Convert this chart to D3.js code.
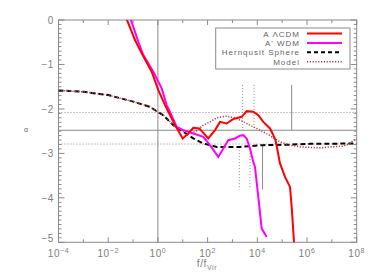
<!DOCTYPE html>
<html><head><meta charset="utf-8">
<script src="https://cdn.jsdelivr.net/npm/d3@7"></script>
<style>body{margin:0;background:#fff}svg{display:block}text{font-family:"Liberation Sans",Arial,sans-serif}</style>
</head><body>
<svg id="c" width="374" height="280"></svg>
<script>
// data: [log10(f/fVir), alpha]
const lcdm = [[-1.324,0.113],[-0.922,-0.45],[-0.652,-0.75],[-0.25,-1.164],[0.016,-1.577],[0.286,-1.914],[0.688,-2.365],[0.998,-2.664],[1.223,-2.552],[1.425,-2.426],[1.666,-2.439],[2.028,-2.664],[2.298,-2.477],[2.499,-2.291],[2.769,-2.327],[3.022,-2.23],[3.372,-2.178],[3.573,-2.05],[3.839,-2.065],[4.04,-2.14],[4.241,-2.291],[4.511,-2.439],[4.644,-2.59],[4.732,-2.703],[4.813,-2.928],[4.913,-3.227],[5.115,-3.529],[5.316,-3.754],[5.384,-4.205],[5.477,-4.993],[5.49,-5.1]];
const wdm = [[-1.151,0.113],[-0.789,-0.489],[-0.588,-0.788],[-0.185,-1.164],[0.153,-1.538],[0.354,-1.914],[0.487,-2.065],[0.757,-2.403],[1.022,-2.477],[1.425,-2.552],[1.827,-2.628],[2.097,-2.815],[2.431,-3.079],[2.632,-2.89],[2.833,-2.703],[3.103,-2.664],[3.304,-2.601],[3.437,-2.59],[3.573,-2.664],[3.706,-2.89],[3.839,-3.191],[3.907,-3.304],[4.04,-3.98],[4.177,-4.691],[4.378,-4.881]];
const hernquist = [[-4,-1.583],[-3.002,-1.615],[-1.996,-1.689],[-0.99,-1.836],[-0.318,-1.953],[-0.024,-2.061],[0.217,-2.14],[0.62,-2.365],[1.022,-2.516],[1.425,-2.664],[1.827,-2.777],[2.366,-2.854],[3.304,-2.854],[4.241,-2.815],[5.316,-2.804],[6.121,-2.786],[8,-2.777]];
const model = [[-4,-1.583],[-3.002,-1.615],[-1.996,-1.689],[-0.99,-1.836],[-0.318,-1.953],[-0.024,-2.061],[0.217,-2.14],[0.62,-2.365],[1.022,-2.5],[1.29,-2.552],[1.533,-2.5],[1.827,-2.365],[2.097,-2.291],[2.366,-2.2],[2.769,-2.162],[3.171,-2.214],[3.573,-2.327],[3.976,-2.439],[4.241,-2.516],[4.511,-2.601],[4.913,-2.741],[5.316,-2.815],[5.718,-2.854],[6.121,-2.867],[6.523,-2.876],[6.925,-2.854],[7.461,-2.838],[7.73,-2.777],[7.863,-2.703],[8,-2.68]];
const hLinesSolid = [-2.48];
const hLinesDotted = [-2.08, -2.79];
const vLineSolid = [0];
// markers: [logf, alphaTop, alphaBottom, style]
const markers = [[3.41,-1.46,-2.48,"dot"],[3.867,-1.46,-2.48,"dot"],[5.384,-1.46,-2.48,"solid"],[3.276,-2.86,-3.81,"dot"],[3.706,-2.86,-3.81,"dot"],[4.21,-2.82,-3.81,"solid"]];
const xTickExp = [-4,-2,0,2,4,6,8];
const yTicks = [0,-1,-2,-3,-4,-5];
const legendNames = ["A  \u039BCDM","A' WDM","Hernqusit Sphere","Model"];

const svg = d3.select("#c");
const L=58.5,R=356.7,T=20,B=242.3;
const x = d3.scaleLinear().domain([-4,8]).range([L,R]);
const y = d3.scaleLinear().domain([-5,0]).range([B,T]);
const gray="#8a8a8a", tgray="#808080";

svg.append("defs").append("clipPath").attr("id","clip").append("rect").attr("x",L).attr("y",T).attr("width",R-L).attr("height",B-T);

// frame
svg.append("rect").attr("x",L).attr("y",T).attr("width",R-L).attr("height",B-T).attr("fill","none").attr("stroke",gray).attr("stroke-width",1);

// x ticks (all decades), labelled at even
const g=svg.append("g").attr("stroke",gray).attr("stroke-width",1);
d3.range(-4,9).forEach(e=>{
  const len = (e%2===0)?5:3;
  const xx=x(e);
  g.append("line").attr("x1",xx).attr("x2",xx).attr("y1",B).attr("y2",B-len);
  g.append("line").attr("x1",xx).attr("x2",xx).attr("y1",T).attr("y2",T+len);
});
// y ticks
d3.range(0,51).forEach(i=>{
  const v=-i/10; const major = i%10===0; const len = major?6:3;
  const yy=y(v);
  g.append("line").attr("x1",L).attr("x2",L+len).attr("y1",yy).attr("y2",yy);
  g.append("line").attr("x1",R).attr("x2",R-len).attr("y1",yy).attr("y2",yy);
});

// tick labels
xTickExp.forEach(e=>{
  const t=svg.append("text").attr("x",x(e)).attr("y",257).attr("text-anchor","middle").attr("fill",tgray).attr("font-size",10).attr("letter-spacing",0.6);
  t.append("tspan").text("10");
  t.append("tspan").attr("dy",-4).attr("font-size",7).text(e<0?"\u2212"+(-e):String(e));
});
yTicks.forEach(v=>{
  svg.append("text").attr("x",54).attr("y",y(v)+(v===-5?0:4)).attr("text-anchor","end").attr("fill",tgray).attr("font-size",10).attr("letter-spacing",0.6).text(v===0?"0":"\u2212"+(-v));
});
// axis labels
const xl=svg.append("text").attr("x",207).attr("y",267).attr("text-anchor","middle").attr("fill",tgray).attr("font-size",10).attr("letter-spacing",0.6);
xl.append("tspan").text("f/f");
xl.append("tspan").attr("dy",3).attr("font-size",7).text("Vir");
svg.append("text").attr("x",26).attr("y",132).attr("text-anchor","middle").attr("fill","#666").attr("font-size",7).text("\u03B1");

// reference lines
hLinesSolid.forEach(v=>svg.append("line").attr("x1",L).attr("x2",R).attr("y1",y(v)).attr("y2",y(v)).attr("stroke",gray).attr("stroke-width",1));
hLinesDotted.forEach(v=>svg.append("line").attr("x1",L).attr("x2",R).attr("y1",y(v)).attr("y2",y(v)).attr("stroke",gray).attr("stroke-width",1).attr("stroke-dasharray","1,2"));
vLineSolid.forEach(v=>svg.append("line").attr("x1",x(v)).attr("x2",x(v)).attr("y1",T).attr("y2",B).attr("stroke",gray).attr("stroke-width",1));
markers.forEach(m=>{
  svg.append("line").attr("x1",x(m[0])).attr("x2",x(m[0])).attr("y1",y(m[1])).attr("y2",y(m[2])).attr("stroke",gray).attr("stroke-width",1).attr("stroke-dasharray",m[3]==="dot"?"1,2":null);
});

// curves
const line=d3.line().x(d=>x(d[0])).y(d=>y(d[1]));
const cg=svg.append("g").attr("clip-path","url(#clip)").attr("fill","none");
cg.append("path").datum(hernquist).attr("d",line).attr("stroke","#000").attr("stroke-width",2).attr("stroke-dasharray","5,3");
cg.append("path").datum(model).attr("d",line).attr("stroke","#b03a3a").attr("stroke-width",1.5).attr("stroke-dasharray","1.2,1.6");
cg.append("path").datum(wdm).attr("d",line).attr("stroke","#ff00ff").attr("stroke-width",2);
cg.append("path").datum(lcdm).attr("d",line).attr("stroke","#ff0000").attr("stroke-width",2);

// legend
svg.append("rect").attr("x",215.7).attr("y",28).attr("width",134.3).attr("height",41).attr("fill","#fff").attr("stroke",gray).attr("stroke-width",1);
const styles=[{c:"#ff0000",w:2,d:null},{c:"#ff00ff",w:2,d:null},{c:"#000",w:2,d:"4,3"},{c:"#b03a3a",w:1.5,d:"1.2,1.6"}];
legendNames.forEach((n,i)=>{
  const yy=33.5+i*9.4;
  svg.append("text").attr("x",300).attr("y",yy+3).attr("text-anchor","end").attr("fill","#666").attr("font-size",8).attr("letter-spacing",1).text(n);
  svg.append("line").attr("x1",307).attr("x2",342).attr("y1",yy).attr("y2",yy).attr("stroke",styles[i].c).attr("stroke-width",styles[i].w).attr("stroke-dasharray",styles[i].d);
});
</script>
</body></html>
